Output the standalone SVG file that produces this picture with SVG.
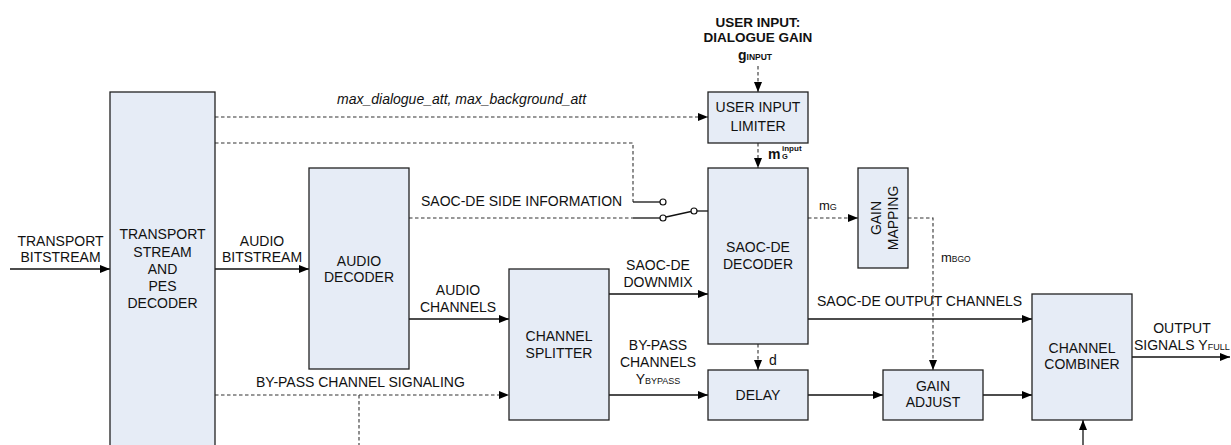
<svg xmlns="http://www.w3.org/2000/svg" width="1231" height="445" viewBox="0 0 1231 445">
<style>
.box{fill:#e6ecf6;stroke:#222;stroke-width:1.3}
.t{font-family:"Liberation Sans",Arial,sans-serif;font-size:14px;fill:#111}
.c{text-anchor:middle}
.b{font-weight:bold}
.i{font-style:italic}
.s{font-size:9px}
.ln{fill:none;stroke:#111;stroke-width:1.3}
.dl{fill:none;stroke:#333;stroke-width:1.1;stroke-dasharray:3.5,2.5}
.sw{fill:#fff;stroke:#111;stroke-width:1.2}
</style>
<defs>
<marker id="ah" markerUnits="userSpaceOnUse" markerWidth="11" markerHeight="9" refX="10" refY="4" orient="auto">
<path d="M0,0 L10,4 L0,8 z" fill="#000"/>
</marker>
</defs>
<rect width="1231" height="445" fill="#fff"/>

<g id="connectors">
<line class="ln" x1="10" y1="269" x2="110" y2="269" marker-end="url(#ah)"/>
<line class="ln" x1="215" y1="269" x2="309" y2="269" marker-end="url(#ah)"/>
<line class="dl" x1="215" y1="117" x2="708" y2="117" marker-end="url(#ah)"/>
<polyline class="dl" points="215,143 633,143 633,202"/>
<line class="ln" x1="633" y1="202" x2="660" y2="202"/>
<line class="dl" x1="409" y1="218" x2="633" y2="218"/>
<line class="ln" x1="633" y1="218" x2="660" y2="218"/>
<line class="ln" x1="666" y1="217" x2="691" y2="211.5"/>
<line class="ln" x1="697" y1="211" x2="708" y2="211"/>
<circle class="sw" cx="663" cy="202" r="3"/>
<circle class="sw" cx="663" cy="218" r="3"/>
<circle class="sw" cx="694" cy="211" r="3"/>
<line class="dl" x1="758" y1="66" x2="758" y2="92" marker-end="url(#ah)"/>
<line class="dl" x1="758" y1="143" x2="758" y2="168" marker-end="url(#ah)"/>
<line class="ln" x1="409" y1="319" x2="509" y2="319" marker-end="url(#ah)"/>
<line class="ln" x1="609" y1="294" x2="708" y2="294" marker-end="url(#ah)"/>
<line class="ln" x1="609" y1="395" x2="708" y2="395" marker-end="url(#ah)"/>
<line class="dl" x1="215" y1="395" x2="509" y2="395" marker-end="url(#ah)"/>
<line class="dl" x1="359" y1="395" x2="359" y2="445"/>
<line class="dl" x1="758" y1="344" x2="758" y2="370" marker-end="url(#ah)"/>
<line class="dl" x1="808" y1="218" x2="858" y2="218" marker-end="url(#ah)"/>
<polyline class="dl" points="908,218 933,218 933,370" marker-end="url(#ah)"/>
<line class="ln" x1="808" y1="395" x2="883" y2="395" marker-end="url(#ah)"/>
<line class="ln" x1="983" y1="395" x2="1032" y2="395" marker-end="url(#ah)"/>
<line class="ln" x1="808" y1="319" x2="1032" y2="319" marker-end="url(#ah)"/>
<line class="ln" x1="1132" y1="357" x2="1230" y2="357" marker-end="url(#ah)"/>
<line class="ln" x1="1083" y1="445" x2="1083" y2="420" marker-end="url(#ah)"/>
</g>

<g id="transport-decoder">
<rect class="box" x="110" y="92" width="105" height="360"/>
<text class="t c" x="162.5" y="239">TRANSPORT</text>
<text class="t c" x="162.5" y="256.5">STREAM</text>
<text class="t c" x="162.5" y="273.5">AND</text>
<text class="t c" x="162.5" y="290.5">PES</text>
<text class="t c" x="162.5" y="307.5">DECODER</text>
</g>
<g id="audio-decoder">
<rect class="box" x="309" y="168" width="100" height="201"/>
<text class="t c" x="359" y="265.7">AUDIO</text>
<text class="t c" x="359" y="282.3">DECODER</text>
</g>
<g id="user-input-limiter">
<rect class="box" x="708" y="92" width="100" height="51"/>
<text class="t c" x="758" y="112.3">USER INPUT</text>
<text class="t c" x="758" y="131">LIMITER</text>
</g>
<g id="saoc-de-decoder">
<rect class="box" x="708" y="168" width="100" height="176"/>
<text class="t c" x="758" y="252.3">SAOC-DE</text>
<text class="t c" x="758" y="269">DECODER</text>
</g>
<g id="gain-mapping">
<rect class="box" x="858" y="168" width="50" height="100"/>
<text class="t c" transform="translate(881,218) rotate(-90)">GAIN</text>
<text class="t c" transform="translate(897.7,218) rotate(-90)">MAPPING</text>
</g>
<g id="channel-splitter">
<rect class="box" x="509" y="269" width="100" height="151"/>
<text class="t c" x="559" y="341">CHANNEL</text>
<text class="t c" x="559" y="358">SPLITTER</text>
</g>
<g id="delay">
<rect class="box" x="708" y="370" width="100" height="50"/>
<text class="t c" x="758" y="400">DELAY</text>
</g>
<g id="gain-adjust">
<rect class="box" x="883" y="370" width="100" height="50"/>
<text class="t c" x="933" y="390.7">GAIN</text>
<text class="t c" x="933" y="407.3">ADJUST</text>
</g>
<g id="channel-combiner">
<rect class="box" x="1032" y="294" width="100" height="126"/>
<text class="t c" x="1082" y="352.7">CHANNEL</text>
<text class="t c" x="1082" y="369.3">COMBINER</text>
</g>

<g id="labels">
<text class="t c b" x="758" y="26.5" style="font-size:13.5px">USER INPUT:</text>
<text class="t c b" x="758" y="42" style="font-size:13.5px">DIALOGUE GAIN</text>
<text class="t b" x="738" y="60">g<tspan class="s" style="font-size:8.5px">INPUT</tspan></text>
<text class="t i" x="337" y="104">max_dialogue_att, max_background_att</text>
<text class="t b" x="768" y="158.5">m</text>
<text class="t b" x="782" y="151" style="font-size:8px">input</text>
<text class="t b" x="782" y="158.5" style="font-size:7.5px">G</text>
<text class="t" x="421" y="206">SAOC-DE SIDE INFORMATION</text>
<text class="t c" x="60.5" y="245.7">TRANSPORT</text>
<text class="t c" x="60.5" y="262.3">BITSTREAM</text>
<text class="t c" x="262" y="245.7">AUDIO</text>
<text class="t c" x="262" y="262.3">BITSTREAM</text>
<text class="t" x="819" y="210" style="font-size:13px">m<tspan style="font-size:9px">G</tspan></text>
<text class="t" x="941" y="262" style="font-size:13px">m<tspan style="font-size:8.5px">BGO</tspan></text>
<text class="t c" x="458" y="295">AUDIO</text>
<text class="t c" x="458" y="312">CHANNELS</text>
<text class="t c" x="658" y="270">SAOC-DE</text>
<text class="t c" x="658" y="287">DOWNMIX</text>
<text class="t" x="817" y="306">SAOC-DE OUTPUT CHANNELS</text>
<text class="t c" x="1182" y="333.3">OUTPUT</text>
<text class="t" x="1134" y="350">SIGNALS Y<tspan style="font-size:9px">FULL</tspan></text>
<text class="t c" x="658" y="350">BY-PASS</text>
<text class="t c" x="658" y="367">CHANNELS</text>
<text class="t c" x="658" y="384">Y<tspan style="font-size:9px">BYPASS</tspan></text>
<text class="t" x="769" y="365">d</text>
<text class="t" x="256" y="386.7">BY-PASS CHANNEL SIGNALING</text>
</g>
</svg>
